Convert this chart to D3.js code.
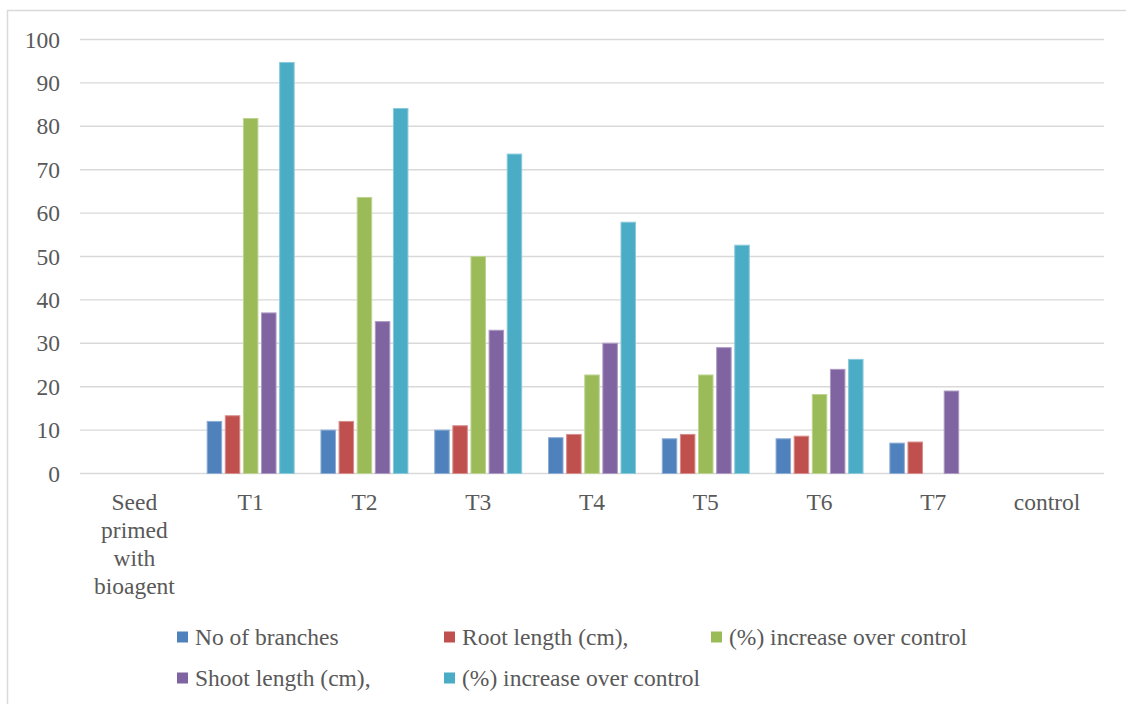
<!DOCTYPE html>
<html>
<head>
<meta charset="utf-8">
<script src="https://cdn.jsdelivr.net/npm/d3@7"></script>
<style>
  html, body { margin: 0; padding: 0; background: #fff; }
  svg { display: block; font-family: "Liberation Serif", "Times New Roman", serif; }
</style>
</head>
<body>
<svg id="chart" width="1126" height="704"></svg>
<script>
// Treatments along the x axis
const categories = ["Seed primed with bioagent", "T1", "T2", "T3", "T4", "T5", "T6", "T7", "control"];

// Series names (legend order)
const seriesNames = [
  "No of branches",
  "Root length (cm),",
  "(%) increase over control",
  "Shoot length (cm),",
  "(%) increase over control"
];

// Values per treatment for each series (null = no bar)
const noOfBranches   = [null, 12, 10, 10, 8.25, 8, 8, 7, null];
const rootLength     = [null, 13.3, 12, 11, 9, 9, 8.6, 7.25, null];
const rootIncrease   = [null, 81.8, 63.6, 50, 22.7, 22.7, 18.2, null, null];
const shootLength    = [null, 37, 35, 33, 30, 29, 24, 19, null];
const shootIncrease  = [null, 94.7, 84.1, 73.6, 57.9, 52.6, 26.3, null, null];

const yTicks = [0, 10, 20, 30, 40, 50, 60, 70, 80, 90, 100];

const seriesValues = [noOfBranches, rootLength, rootIncrease, shootLength, shootIncrease];
const colors = ["#4F81BD", "#C0504D", "#9BBB59", "#8064A2", "#4BACC6"];

const svg = d3.select("#chart");
const textColor = "#595959";
const gridColor = "#d9d9d9";
const fontSize = "23.5px";
const fontFamily = "'Liberation Serif', 'Times New Roman', serif";

// Outer chart frame
svg.append("rect")
  .attr("x", 7.5).attr("y", 10.5)
  .attr("width", 1140).attr("height", 720)
  .attr("fill", "none").attr("stroke", gridColor).attr("stroke-width", 1.5);

const plot = { left: 80, right: 1104, top: 39.5, bottom: 473.5 };

const x0 = d3.scaleBand().domain(categories).range([plot.left, plot.right]).padding(0);
const groupGap = 26.8;
const x1 = d3.scaleBand()
  .domain(d3.range(seriesNames.length))
  .range([groupGap / 2, x0.bandwidth() - groupGap / 2])
  .paddingInner(0.2);
const y = d3.scaleLinear().domain([0, 100]).range([plot.bottom, plot.top]);

// Horizontal gridlines
svg.append("g").selectAll("line").data(yTicks).join("line")
  .attr("x1", plot.left).attr("x2", plot.right)
  .attr("y1", d => y(d)).attr("y2", d => y(d))
  .attr("stroke", gridColor).attr("stroke-width", 1.4);

// Y axis tick labels
const yAxis = d3.axisLeft(y).tickValues(yTicks).tickSize(0).tickPadding(0);
const yg = svg.append("g").attr("transform", `translate(60,0)`).call(yAxis);
yg.select(".domain").remove();
yg.selectAll("text")
  .attr("fill", textColor)
  .style("font-size", fontSize)
  .style("font-family", fontFamily);

// Bars
const barData = [];
categories.forEach((c, ci) => {
  seriesValues.forEach((vals, si) => {
    const v = vals[ci];
    if (v != null) barData.push({ c, si, v });
  });
});

svg.append("g").selectAll("rect").data(barData).join("rect")
  .attr("x", d => x0(d.c) + x1(d.si))
  .attr("y", d => y(d.v))
  .attr("width", x1.bandwidth())
  .attr("height", d => y(0) - y(d.v))
  .attr("fill", d => colors[d.si])
  .attr("stroke", d => d3.interpolateRgb(colors[d.si], "#ffffff")(0.35))
  .attr("stroke-width", 1);

// X axis category labels (wrapped)
const wrapLines = {
  "Seed primed with bioagent": ["Seed", "primed", "with", "bioagent"]
};
const xg = svg.append("g");
categories.forEach(c => {
  const lines = wrapLines[c] || [c];
  const cx = x0(c) + x0.bandwidth() / 2 - (lines.length > 1 ? 2.5 : 0);
  const t = xg.append("text")
    .attr("x", cx)
    .attr("y", 510)
    .attr("text-anchor", "middle")
    .attr("fill", textColor)
    .style("font-size", fontSize);
  lines.forEach((ln, i) => {
    t.append("tspan")
      .attr("x", cx)
      .attr("dy", i === 0 ? 0 : 28)
      .text(ln);
  });
});

// Legend: two rows
const legendPos = [
  { x: 177, y: 637 }, { x: 444, y: 637 }, { x: 711, y: 637 },
  { x: 177, y: 678 }, { x: 444, y: 678 }
];
const lg = svg.append("g");
seriesNames.forEach((name, i) => {
  const p = legendPos[i];
  lg.append("rect")
    .attr("x", p.x).attr("y", p.y - 5.5)
    .attr("width", 11).attr("height", 11)
    .attr("fill", colors[i]);
  lg.append("text")
    .attr("x", p.x + 18).attr("y", p.y)
    .attr("dominant-baseline", "central")
    .attr("fill", textColor)
    .style("font-size", fontSize)
    .text(name);
});
</script>
</body>
</html>
